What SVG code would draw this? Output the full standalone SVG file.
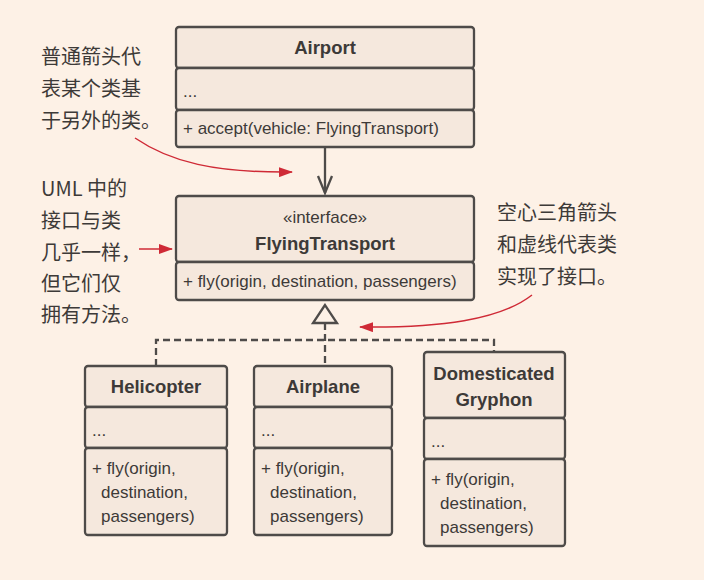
<svg xmlns="http://www.w3.org/2000/svg" width="704" height="580" viewBox="0 0 704 580">
<defs>
<style>
.bx{fill:#f5e8dd;stroke:#4e4b49;stroke-width:2.3}
.t{font-family:"Liberation Sans",Arial,sans-serif;font-size:17px;fill:#3d3a38}
.b{font-family:"Liberation Sans",Arial,sans-serif;font-size:18.5px;font-weight:bold;fill:#3d3a38;text-anchor:middle}
.c{font-family:"Noto Sans CJK SC","Noto Sans",sans-serif;font-size:20px;fill:#3d3a38}
.ln{fill:none;stroke:#4e4b49;stroke-width:2.3}
.dash{fill:none;stroke:#4e4b49;stroke-width:2.3;stroke-dasharray:7 4}
.red{fill:none;stroke:#cf2a36;stroke-width:1.5}
</style>
<marker id="ra" markerUnits="userSpaceOnUse" markerWidth="14" markerHeight="10" refX="13" refY="5" orient="auto">
<path d="M0,0 L14,5 L0,10 z" fill="#cf2a36"/>
</marker>
</defs>
<rect width="704" height="580" fill="#fdf1e6"/>

<g id="connectors">
<line class="ln" x1="325" y1="148" x2="325" y2="193"/>
<polyline class="ln" points="318,176 325,193 332,176"/>
<polygon points="325,305 313,323 337,323" fill="none" stroke="#4e4b49" stroke-width="2.3"/>
<line class="dash" x1="325" y1="323" x2="325" y2="365"/>
<polyline class="dash" points="156,366 156,340 494,340 494,352"/>
</g>

<g id="annotations">
<path class="red" d="M135,138 C170,162 215,173 292,172" marker-end="url(#ra)"/>
<line class="red" x1="139" y1="249" x2="172" y2="249" marker-end="url(#ra)"/>
<path class="red" d="M532,295 C500,320 440,328 360,327" marker-end="url(#ra)"/>
<text class="c" x="41" y="64">普通箭头代</text>
<text class="c" x="41" y="96">表某个类基</text>
<text class="c" x="41" y="128">于另外的类。</text>
<text class="c" x="41" y="196">UML 中的</text>
<text class="c" x="41" y="228">接口与类</text>
<text class="c" x="41" y="260">几乎一样，</text>
<text class="c" x="41" y="291">但它们仅</text>
<text class="c" x="41" y="322">拥有方法。</text>
<text class="c" x="497" y="220">空心三角箭头</text>
<text class="c" x="497" y="252">和虚线代表类</text>
<text class="c" x="497" y="284">实现了接口。</text>
</g>

<g id="airport">
<rect class="bx" x="176" y="27" width="298" height="41" rx="3"/>
<rect class="bx" x="176" y="68" width="298" height="42" rx="3"/>
<rect class="bx" x="176" y="110" width="298" height="37" rx="3"/>
<text class="b" x="325" y="54">Airport</text>
<text class="t" x="183" y="97">...</text>
<text class="t" x="183" y="134">+ accept(vehicle: FlyingTransport)</text>
</g>

<g id="flyingtransport">
<rect class="bx" x="176" y="196" width="298" height="66" rx="3"/>
<rect class="bx" x="176" y="262" width="298" height="38" rx="3"/>
<text class="t" x="325" y="223" text-anchor="middle">«interface»</text>
<text class="b" x="325" y="250">FlyingTransport</text>
<text class="t" x="183" y="287">+ fly(origin, destination, passengers)</text>
</g>

<g id="helicopter">
<rect class="bx" x="85" y="366" width="142" height="41" rx="3"/>
<rect class="bx" x="85" y="407" width="142" height="41" rx="3"/>
<rect class="bx" x="85" y="448" width="142" height="87" rx="3"/>
<text class="b" x="156" y="393">Helicopter</text>
<text class="t" x="92" y="436">...</text>
<text class="t" x="92" y="474">+ fly(origin,</text>
<text class="t" x="101" y="498">destination,</text>
<text class="t" x="101" y="522">passengers)</text>
</g>

<g id="airplane">
<rect class="bx" x="254" y="366" width="138" height="41" rx="3"/>
<rect class="bx" x="254" y="407" width="138" height="41" rx="3"/>
<rect class="bx" x="254" y="448" width="138" height="87" rx="3"/>
<text class="b" x="323" y="393">Airplane</text>
<text class="t" x="261" y="436">...</text>
<text class="t" x="261" y="474">+ fly(origin,</text>
<text class="t" x="270" y="498">destination,</text>
<text class="t" x="270" y="522">passengers)</text>
</g>

<g id="gryphon">
<rect class="bx" x="424" y="352" width="141" height="66" rx="3"/>
<rect class="bx" x="424" y="418" width="141" height="41" rx="3"/>
<rect class="bx" x="424" y="459" width="141" height="87" rx="3"/>
<text class="b" x="494" y="380">Domesticated</text>
<text class="b" x="494" y="406">Gryphon</text>
<text class="t" x="431" y="447">...</text>
<text class="t" x="431" y="485">+ fly(origin,</text>
<text class="t" x="440" y="509">destination,</text>
<text class="t" x="440" y="533">passengers)</text>
</g>
</svg>
